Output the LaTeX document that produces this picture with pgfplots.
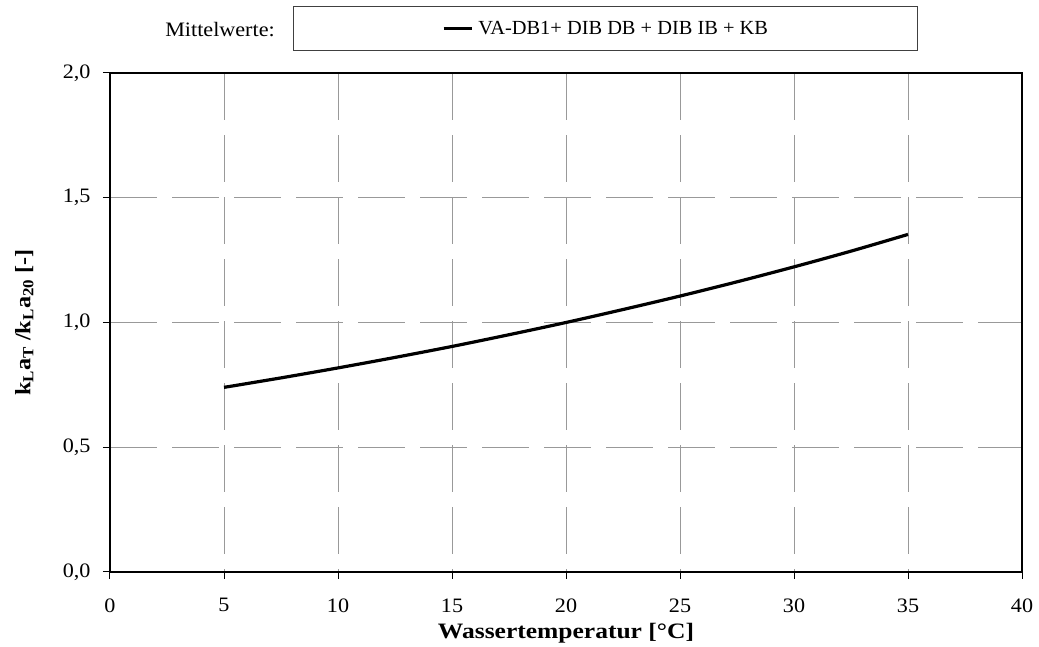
\documentclass[border=0pt]{standalone}
\usepackage{fontspec}
\setmainfont{Liberation Serif}[FakeStretch=1.08]
\newfontfamily\legfont{Liberation Serif}[FakeStretch=1.02]
\newfontfamily\xlabfont{Liberation Serif}[FakeStretch=1.16]
\newfontfamily\ylabfont{Liberation Serif}[FakeStretch=1.1]
\usepackage{pgfplots}
\pgfplotsset{compat=1.18}
\begin{document}
\begin{tikzpicture}[font=\fontsize{20.5}{24}\selectfont]
\useasboundingbox (0,0) rectangle (1039pt,647pt);
\begin{axis}[
  at={(110pt,75pt)}, anchor=south west,
  scale only axis, width=912pt, height=499pt,
  xmin=0, xmax=40, ymin=0, ymax=2,
  xtick={0,5,10,15,20,25,30,35,40},
  ytick={0,0.5,1,1.5,2},
  xtick pos=lower, ytick pos=left,
  tick align=outside, major tick length=7pt,
  tick style={black, line width=1pt},
  axis line style={black, line width=1.2pt},
  grid=major,
  major grid style={black!40, line width=0.9pt, dash pattern=on 47pt off 15pt},
  x grid style={dash phase=44pt},
  /pgf/number format/assume math mode=true,
  yticklabel style={/pgf/number format/fixed, /pgf/number format/fixed zerofill,
    /pgf/number format/precision=1, /pgf/number format/use comma, xshift=-9pt},
  xticklabel style={yshift=-16pt},
  xlabel={\xlabfont\fontsize{22}{26}\selectfont\bfseries Wassertemperatur [°C]},
  xlabel style={at={(axis description cs:0.5,0)}, anchor=center, yshift=-61pt},
  ylabel={\ylabfont\fontsize{22}{26}\selectfont\bfseries k\textsubscript{L}a\textsubscript{T} /k\textsubscript{L}a\textsubscript{20} [-]},
  ylabel style={at={(axis description cs:-0.094,0.5)}, anchor=center},
  legend style={at={(axis description cs:0.5428,1.089)}, anchor=center,
    draw=black!75, line width=1pt, inner xsep=149pt, inner ysep=15pt,
    nodes={inner sep=0pt, font=\legfont\fontsize{20}{24}\selectfont}, column sep=5pt},
  legend image code/.code={\draw[#1, line width=3.2pt] (0pt,0pt) -- (28pt,0pt);},
]
\addplot[black, line width=3.2pt, smooth] coordinates {
  (5,0.740) (7.5,0.778) (10,0.818) (12.5,0.860) (15,0.904) (17.5,0.951)
  (20,1.000) (22.5,1.052) (25,1.106) (27.5,1.163) (30,1.223) (32.5,1.286) (35,1.353)
};
\addlegendentry{VA-DB1+ DIB DB + DIB IB + KB}
\end{axis}
\node at (220pt,617pt) {Mittelwerte:};
\end{tikzpicture}
\end{document}
